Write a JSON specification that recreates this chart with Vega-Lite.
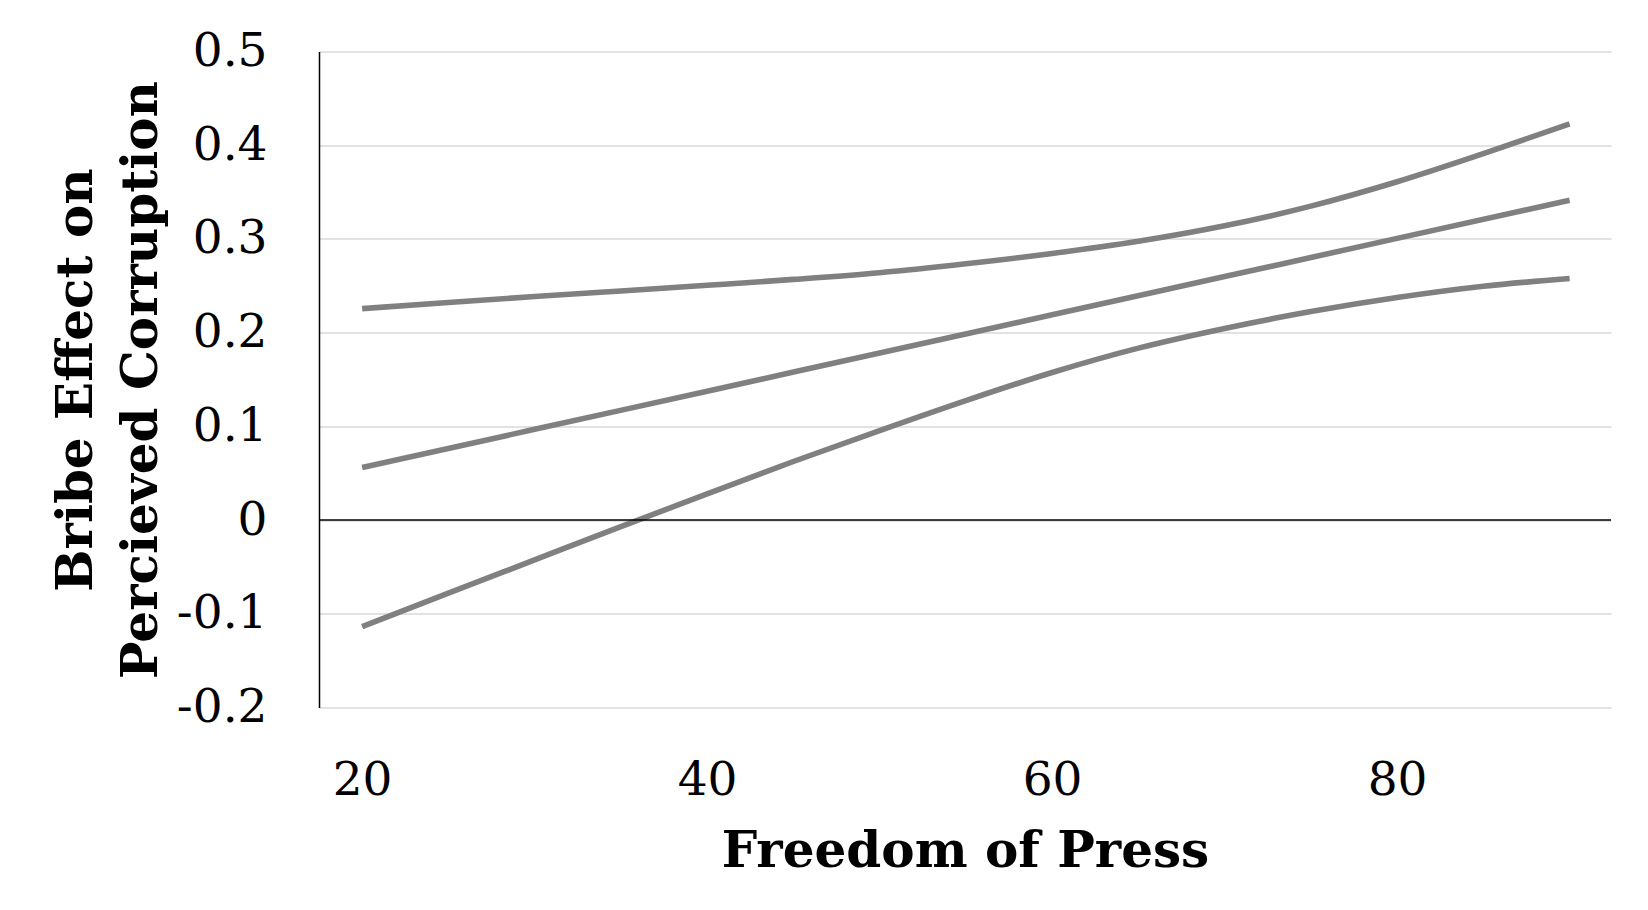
{
  "$schema": "https://vega.github.io/schema/vega-lite/v6.json",
  "autosize": {"type": "none"},
  "width": 1292,
  "height": 656,
  "padding": {"left": 319, "top": 51.5, "right": 37, "bottom": 202.5},
  "background": "white",
  "config": {
    "view": {"stroke": null},
    "font": "DejaVu Serif"
  },
  "datasets": {
    "lines": [
      {"x": 20, "y": 0.2256, "series": "upper"},
      {"x": 25, "y": 0.2322, "series": "upper"},
      {"x": 30, "y": 0.2385, "series": "upper"},
      {"x": 35, "y": 0.2445, "series": "upper"},
      {"x": 40, "y": 0.2505, "series": "upper"},
      {"x": 45, "y": 0.2568, "series": "upper"},
      {"x": 50, "y": 0.264, "series": "upper"},
      {"x": 55, "y": 0.2735, "series": "upper"},
      {"x": 60, "y": 0.2845, "series": "upper"},
      {"x": 65, "y": 0.2975, "series": "upper"},
      {"x": 70, "y": 0.314, "series": "upper"},
      {"x": 75, "y": 0.335, "series": "upper"},
      {"x": 80, "y": 0.361, "series": "upper"},
      {"x": 85, "y": 0.391, "series": "upper"},
      {"x": 90, "y": 0.4227, "series": "upper"},
      {"x": 20, "y": 0.056, "series": "mid"},
      {"x": 30, "y": 0.0968, "series": "mid"},
      {"x": 40, "y": 0.1375, "series": "mid"},
      {"x": 50, "y": 0.1783, "series": "mid"},
      {"x": 60, "y": 0.219, "series": "mid"},
      {"x": 70, "y": 0.2598, "series": "mid"},
      {"x": 80, "y": 0.3006, "series": "mid"},
      {"x": 90, "y": 0.3413, "series": "mid"},
      {"x": 20, "y": -0.1136, "series": "lower"},
      {"x": 25, "y": -0.078, "series": "lower"},
      {"x": 30, "y": -0.0425, "series": "lower"},
      {"x": 35, "y": -0.007, "series": "lower"},
      {"x": 40, "y": 0.028, "series": "lower"},
      {"x": 45, "y": 0.0625, "series": "lower"},
      {"x": 50, "y": 0.0955, "series": "lower"},
      {"x": 55, "y": 0.1275, "series": "lower"},
      {"x": 60, "y": 0.1575, "series": "lower"},
      {"x": 65, "y": 0.1835, "series": "lower"},
      {"x": 70, "y": 0.2045, "series": "lower"},
      {"x": 75, "y": 0.2225, "series": "lower"},
      {"x": 80, "y": 0.2375, "series": "lower"},
      {"x": 85, "y": 0.2495, "series": "lower"},
      {"x": 90, "y": 0.2577, "series": "lower"}
    ],
    "zero": [{"y": 0}]
  },
  "layer": [
    {
      "data": {"name": "lines"},
      "mark": {"type": "line", "interpolate": "monotone", "color": "#808080", "strokeWidth": 5.6, "strokeCap": "butt", "clip": true},
      "encoding": {
        "x": {
          "field": "x", "type": "quantitative",
          "scale": {"domain": [17.5, 92.4], "nice": false, "zero": false},
          "axis": {
            "values": [20, 40, 60, 80],
            "title": "Freedom of Press",
            "grid": false, "ticks": false, "domain": false,
            "labelFontSize": 47, "labelColor": "black", "labelPadding": 50,
            "labelFont": "DejaVu Serif",
            "titleFontSize": 50, "titleFont": "DejaVu Serif", "titleFontWeight": "bold",
            "titleColor": "black", "titlePadding": 23
          }
        },
        "y": {
          "field": "y", "type": "quantitative",
          "scale": {"domain": [-0.2, 0.5], "nice": false, "zero": false},
          "axis": {
            "values": [-0.2, -0.1, 0, 0.1, 0.2, 0.3, 0.4, 0.5],
            "labelExpr": "datum.value == 0 ? '0' : (datum.value < 0 ? '-' + format(-datum.value, '.1f') : format(datum.value, '.1f'))",
            "title": ["Bribe Effect on", "Percieved Corruption"],
            "grid": true, "gridColor": "#d9d9d9", "gridWidth": 1.5,
            "ticks": false, "domain": true, "domainColor": "black", "domainWidth": 1.5,
            "labelFontSize": 47, "labelColor": "black", "labelPadding": 52,
            "labelFont": "DejaVu Serif",
            "titleFontSize": 50, "titleFont": "DejaVu Serif", "titleFontWeight": "bold",
            "titleColor": "black", "titlePadding": 10, "titleLineHeight": 65
          }
        },
        "detail": {"field": "series"}
      }
    },
    {
      "data": {"name": "zero"},
      "mark": {"type": "rule", "color": "black", "strokeWidth": 1.5},
      "encoding": {
        "y": {"field": "y", "type": "quantitative"}
      }
    }
  ]
}
